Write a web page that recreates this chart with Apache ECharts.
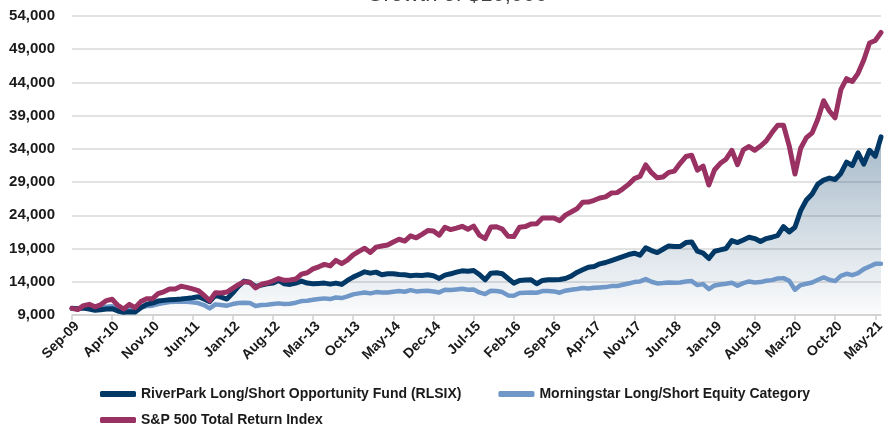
<!DOCTYPE html>
<html>
<head>
<meta charset="utf-8">
<script src="https://cdn.jsdelivr.net/npm/echarts@6/dist/echarts.min.js"></script>
<style>
  html, body { margin: 0; padding: 0; background: #fff; }
  #chart { width: 890px; height: 426px; }
</style>
</head>
<body>
<div id="chart"></div>
<script>
// month labels, Sep-09 .. Jun-21
let monthNames = ['Jan', 'Feb', 'Mar', 'Apr', 'May', 'Jun', 'Jul', 'Aug', 'Sep', 'Oct', 'Nov', 'Dec']
let months = []
for (let y = 2009, m = 8; y < 2021 || (y === 2021 && m <= 5); m++) {
    if (m > 11) { m = 0; y++ }
    months.push(monthNames[m] + '-' + String(y).slice(2))
}

let fundName = 'RiverPark Long/Short Opportunity Fund (RLSIX)'
let categoryName = 'Morningstar Long/Short Equity Category'
let indexName = 'S&P 500 Total Return Index'

let fund = [
    10000, 9950, 10050, 9900, 9700, 9800, 9900, 9950, 9600, 9400, 9500, 9450,
    10100, 10600, 10800, 11100, 11200, 11300, 11350, 11400, 11500, 11600, 11750, 11400,
    11000, 12000, 11700, 11400, 12300, 13300, 14100, 13900, 13300, 13500, 13700, 13800,
    14200, 13700, 13600, 13800, 14100, 13800, 13700, 13750, 13800, 13650, 13800, 13600,
    14200, 14700, 15100, 15500, 15300, 15450, 15050, 15200, 15200, 15100, 15050, 14900,
    15000, 14950, 15050, 14900, 14500, 15000, 15200, 15450, 15650, 15600, 15700, 15100,
    14300, 15300, 15350, 15200, 14500, 13800, 14200, 14250, 14300, 13700, 14200, 14300,
    14300, 14350, 14500, 14850, 15400, 15800, 16200, 16300, 16700, 16900, 17200, 17500,
    17800, 18100, 18300, 18000, 19100, 18700, 18400, 18900, 19400, 19300, 19300, 19900,
    20000, 18600, 18300, 17500, 18600, 18800, 19000, 20200, 19900, 20300, 20700, 20500,
    20050, 20500, 20700, 21000, 22300, 21500, 22200, 24700, 26300, 27200, 28700, 29300,
    29600, 29400, 30300, 32000, 31500, 33400, 31700, 33800, 32900, 35800
]

let category = [
    10000, 9950, 10150, 10200, 10000, 10100, 10250, 10300, 9850, 9700, 10000, 9800,
    10100, 10350, 10400, 10650, 10800, 10950, 11000, 11050, 11000, 10900, 10800, 10500,
    10000, 10600, 10500, 10400, 10650, 10800, 10850, 10800, 10350, 10500, 10550, 10650,
    10750, 10650, 10700, 10850, 11100, 11150, 11300, 11400, 11500, 11400, 11650, 11550,
    11800, 12100, 12250, 12400, 12250, 12450, 12400, 12400, 12500, 12600, 12500, 12750,
    12550, 12600, 12650, 12550, 12400, 12800, 12750, 12850, 12950, 12800, 12850, 12400,
    12150, 12650, 12600, 12450, 11950, 11900, 12300, 12350, 12400, 12350, 12600, 12600,
    12550, 12350, 12650, 12800, 12900, 13050, 13000, 13100, 13150, 13200, 13350, 13350,
    13550, 13750, 13950, 14050, 14400, 14000, 13750, 13800, 13900, 13850, 13900, 14050,
    14100, 13500, 13650, 12900, 13450, 13600, 13700, 13850, 13400, 13800, 14050, 13900,
    13950, 14150, 14250, 14500, 14550, 14150, 12800, 13500, 13700, 13900, 14300, 14650,
    14300, 14100, 14900, 15200, 15000, 15300, 15900, 16300, 16700, 16700
]

let sp500 = [
    10000, 9818, 10404, 10602, 10230, 10533, 11172, 11363, 10442, 9903, 10602, 10109,
    11014, 11438, 11438, 12204, 12496, 12916, 12927, 13319, 13155, 12942, 12678, 11983,
    11137, 12360, 12322, 12452, 13008, 13567, 14008, 13932, 13078, 13620, 13813, 14118,
    14483, 14216, 14280, 14405, 15158, 15356, 15930, 16252, 16615, 16388, 17233, 16719,
    17249, 18048, 18582, 19045, 18406, 19222, 19388, 19545, 19992, 20400, 20131, 20915,
    20625, 21143, 21704, 21646, 21009, 22206, 21853, 22080, 22340, 21911, 22384, 21016,
    20496, 22231, 22279, 21930, 20849, 20798, 22213, 22304, 22687, 22747, 23599, 23605,
    23612, 23193, 24028, 24506, 24985, 25959, 25991, 26265, 26616, 26781, 27348, 27417,
    27986, 28657, 29520, 29861, 31589, 30410, 29643, 29771, 30464, 30662, 31821, 32848,
    33039, 30800, 31398, 28567, 30863, 31829, 32455, 33794, 31620, 33859, 34353, 33786,
    34432, 35198, 36454, 37564, 37570, 34461, 30208, 34088, 35694, 36413, 38487, 41251,
    39704, 38671, 42906, 44569, 44145, 45374, 47382, 49946, 50305, 51516
]

let yMin = 9000
let yMax = 54000
let yStep = 5000

let navy = '#013865'
let lightBlue = '#6f97c8'
let maroon = '#9a3163'
let font = "'Liberation Sans', Arial, sans-serif"

let myChart = echarts.init(document.getElementById('chart'))

let option = {
    animation: false,
    textStyle: { fontFamily: font },
    graphic: [{
        // title sits mostly above the visible area
        type: 'text',
        x: 457,
        y: 5.5,
        style: {
            text: 'Growth of $10,000',
            font: "22px 'Liberation Sans', sans-serif",
            fill: '#404040',
            align: 'center',
            verticalAlign: 'bottom'
        }
    }],
    grid: { left: 72, right: 9, top: 16, bottom: 111 },
    legend: [{
        left: 95,
        top: 382,
        itemWidth: 36,
        itemHeight: 6,
        itemGap: 37,
        icon: 'roundRect',
        textStyle: { fontSize: 14, fontWeight: 'bold', color: '#1a1a1a', fontFamily: font },
        data: [fundName, categoryName]
    }, {
        left: 95,
        top: 408,
        itemWidth: 36,
        itemHeight: 6,
        icon: 'roundRect',
        textStyle: { fontSize: 14, fontWeight: 'bold', color: '#1a1a1a', fontFamily: font },
        data: [indexName]
    }],
    xAxis: {
        type: 'category',
        boundaryGap: false,
        data: months,
        axisLine: { lineStyle: { color: '#d0d0d0', width: 1.5 } },
        axisTick: { interval: 6, length: 5, lineStyle: { color: '#d0d0d0', width: 1.5 } },
        axisLabel: {
            interval: 6,
            rotate: 45,
            margin: 4,
            verticalAlign: 'top',
            fontSize: 14,
            fontWeight: 'bold',
            color: '#1a1a1a',
            fontFamily: font
        },
        splitLine: { show: false }
    },
    yAxis: {
        type: 'value',
        min: yMin,
        max: yMax,
        interval: yStep,
        axisLine: { show: false },
        axisTick: { show: false },
        axisLabel: {
            margin: 17,
            fontSize: 15,
            fontWeight: 'bold',
            color: '#1a1a1a',
            fontFamily: font,
            formatter: function(v) { return v.toLocaleString('en-US') }
        },
        splitLine: { lineStyle: { color: '#d9d9d9', width: 1.5 } }
    },
    series: [{
        // shaded area under the fund line
        name: 'fundArea',
        type: 'line',
        data: fund,
        symbol: 'none',
        silent: true,
        lineStyle: { width: 0 },
        areaStyle: {
            origin: 'start',
            color: new echarts.graphic.LinearGradient(0, 0, 0, 1, [
                { offset: 0, color: 'rgba(1,56,101,0.5)' },
                { offset: 1, color: 'rgba(1,56,101,0.02)' }
            ])
        },
        z: 1
    }, {
        name: categoryName,
        type: 'line',
        data: category,
        symbol: 'none',
        color: lightBlue,
        lineStyle: { width: 4.5, color: lightBlue, cap: 'round', join: 'round' },
        z: 2
    }, {
        name: fundName,
        type: 'line',
        data: fund,
        symbol: 'none',
        color: navy,
        lineStyle: { width: 5, color: navy, cap: 'round', join: 'round' },
        z: 3
    }, {
        name: indexName,
        type: 'line',
        data: sp500,
        symbol: 'none',
        color: maroon,
        lineStyle: { width: 5, color: maroon, cap: 'round', join: 'round' },
        z: 4
    }]
}

myChart.setOption(option)
</script>
</body>
</html>
